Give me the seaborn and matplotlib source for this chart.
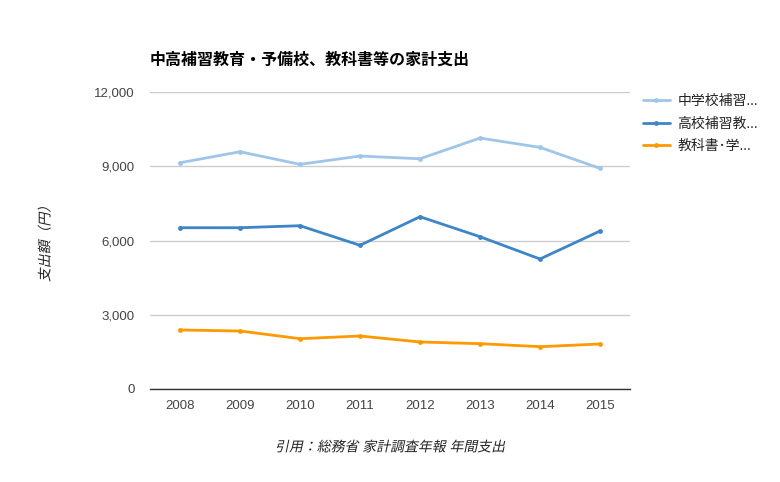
import pandas as pd
import matplotlib
matplotlib.use("Agg")
import matplotlib.pyplot as plt
import matplotlib.patheffects as pe
from matplotlib.transforms import Affine2D
import seaborn as sns

# ------------------------- DATI -------------------------
years = ["2008", "2009", "2010", "2011", "2012", "2013", "2014", "2015"]
series_names = ["中学校補習...", "高校補習教...", "教科書･学..."]
junior_hs = [9143, 9588, 9079, 9414, 9305, 10141, 9764, 8917]
senior_hs = [6517, 6517, 6598, 5806, 6962, 6154, 5253, 6384]
textbooks = [2384, 2343, 2032, 2141, 1899, 1831, 1709, 1818]
y_ticks = [0, 3000, 6000, 9000, 12000]
colors = ["#9fc5e8", "#3d85c6", "#ff9900"]

df = pd.DataFrame({
    "year": years * 3,
    "series": [series_names[0]] * 8 + [series_names[1]] * 8 + [series_names[2]] * 8,
    "value": junior_hs + senior_hs + textbooks,
})


# i font CJK non hanno il corsivo: lo simuliamo inclinando i glifi
class FakeItalic(pe.AbstractPathEffect):
    def draw_path(self, renderer, gc, tpath, affine, rgbFace=None):
        renderer.draw_path(gc, tpath, Affine2D().skew_deg(12, 0) + affine, rgbFace)


# ------------------------- GRAFICO -------------------------
sns.set_theme(style="white")
plt.rcParams["font.family"] = ["Liberation Sans", "Noto Sans CJK JP", "DejaVu Sans"]

fig = plt.figure(figsize=(7.8, 4.82), dpi=100)
ax = fig.add_axes([0.1923, 0.193, 0.6154, 0.616])

sns.lineplot(data=df, x="year", y="value", hue="series", palette=colors,
             marker="o", markersize=3.5, markeredgewidth=0, linewidth=2,
             sort=False, ax=ax)

ax.set_xlim(-0.5, len(years) - 0.5)
ax.set_ylim(0, 12000)
ax.set_yticks(y_ticks)
ax.set_yticklabels([f"{v:,}" for v in y_ticks])
ax.yaxis.grid(True, color="#cccccc", linewidth=1)
ax.set_axisbelow(True)
for s in ["top", "right", "left"]:
    ax.spines[s].set_visible(False)
ax.spines["bottom"].set_color("#333333")
ax.spines["bottom"].set_linewidth(1)
ax.tick_params(axis="both", length=0, labelsize=9.5, labelcolor="#444444")
ax.tick_params(axis="x", pad=8)
ax.tick_params(axis="y", pad=11)

ax.set_xlabel("")
ylab = ax.set_ylabel("支出額（円）", fontsize=10, color="#222222", labelpad=30)
ylab.set_path_effects([FakeItalic()])

fig.text(0.1923, 0.875, "中高補習教育・予備校、教科書等の家計支出",
         fontsize=11.5, fontweight="bold", color="#000000", ha="left", va="center")
src = fig.text(0.5, 0.072, "引用：総務省 家計調査年報 年間支出",
               fontsize=10, color="#222222", ha="center", va="center")
src.set_path_effects([FakeItalic()])

leg = ax.legend(loc="upper left", bbox_to_anchor=(1.0, 1.035), frameon=False,
                fontsize=10, handlelength=2.0, labelspacing=0.6, handletextpad=0.5)
for t in leg.get_texts():
    t.set_color("#222222")

fig.savefig("out.png", dpi=100, facecolor="white")
